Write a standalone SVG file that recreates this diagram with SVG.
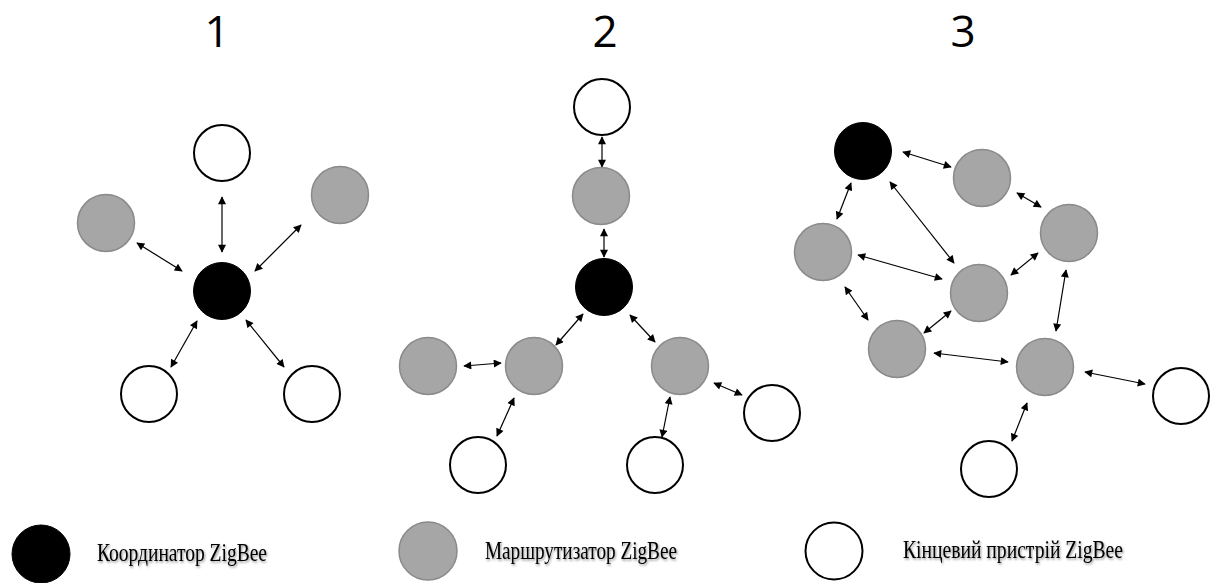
<svg xmlns="http://www.w3.org/2000/svg" width="1212" height="583" viewBox="0 0 1212 583">
<style>
.coord{fill:#000;stroke:#000;stroke-width:1}
.router{fill:#a6a6a6;stroke:#8a8a8a;stroke-width:1.5}
.end{fill:#fff;stroke:#000;stroke-width:2}
.link{stroke:#000;stroke-width:1.2;fill:none;marker-start:url(#ah);marker-end:url(#ah)}
.title{font-family:"Open Sans","Liberation Sans",sans-serif;font-size:44px;fill:#000;text-anchor:middle}
.leg{font-family:"Liberation Serif","Times New Roman",serif;font-size:25px;fill:#000;filter:url(#sh)}
</style>
<defs>
<marker id="ah" viewBox="0 0 10 10" refX="9" refY="5" markerWidth="9" markerHeight="8" markerUnits="userSpaceOnUse" orient="auto-start-reverse">
<path d="M0,0 L10,5 L0,10 z" fill="#000"/>
</marker>
<filter id="sh" x="-5%" y="-20%" width="110%" height="150%">
<feDropShadow dx="1" dy="1.5" stdDeviation="0.8" flood-color="#000" flood-opacity="0.45"/>
</filter>
</defs>

<g id="titles">
<text class="title" x="217" y="47">1</text>
<text class="title" x="605" y="47">2</text>
<text class="title" x="963" y="47">3</text>
</g>

<g id="connectors">
<!-- panel 1 -->
<line class="link" x1="222" y1="197" x2="222" y2="252"/>
<line class="link" x1="137" y1="243" x2="182" y2="271"/>
<line class="link" x1="301" y1="225" x2="255" y2="271"/>
<line class="link" x1="197" y1="321" x2="171" y2="367"/>
<line class="link" x1="246" y1="320" x2="284" y2="367"/>
<!-- panel 2 -->
<line class="link" x1="602" y1="137" x2="602" y2="167"/>
<line class="link" x1="604" y1="229" x2="604" y2="257"/>
<line class="link" x1="583" y1="314" x2="556" y2="345"/>
<line class="link" x1="630" y1="315" x2="655" y2="342"/>
<line class="link" x1="464" y1="366" x2="501" y2="363"/>
<line class="link" x1="514" y1="398" x2="497" y2="436"/>
<line class="link" x1="670" y1="397" x2="662" y2="437"/>
<line class="link" x1="714" y1="383" x2="742" y2="395"/>
<!-- panel 3 -->
<line class="link" x1="903" y1="152" x2="951" y2="167"/>
<line class="link" x1="851" y1="183" x2="837" y2="219"/>
<line class="link" x1="890" y1="182" x2="954" y2="263"/>
<line class="link" x1="1017" y1="193" x2="1041" y2="207"/>
<line class="link" x1="858" y1="255" x2="942" y2="279"/>
<line class="link" x1="1038" y1="253" x2="1011" y2="275"/>
<line class="link" x1="845" y1="287" x2="868" y2="320"/>
<line class="link" x1="951" y1="311" x2="924" y2="333"/>
<line class="link" x1="1066" y1="270" x2="1056" y2="331"/>
<line class="link" x1="934" y1="353" x2="1008" y2="362"/>
<line class="link" x1="1085" y1="372" x2="1145" y2="384"/>
<line class="link" x1="1027" y1="403" x2="1012" y2="441"/>
</g>

<!-- panel 1 nodes -->
<g id="p1-coord"><circle class="coord" cx="222" cy="291" r="28.5"/></g>
<g id="p1-end-top"><circle class="end" cx="222" cy="153" r="28"/></g>
<g id="p1-router-left"><circle class="router" cx="106" cy="223" r="28.5"/></g>
<g id="p1-router-right"><circle class="router" cx="340" cy="195" r="28.5"/></g>
<g id="p1-end-bl"><circle class="end" cx="149" cy="394" r="28"/></g>
<g id="p1-end-br"><circle class="end" cx="312" cy="394" r="28"/></g>

<!-- panel 2 nodes -->
<g id="p2-end-top"><circle class="end" cx="602" cy="107" r="28"/></g>
<g id="p2-router-top"><circle class="router" cx="601" cy="196" r="28.5"/></g>
<g id="p2-coord"><circle class="coord" cx="604" cy="287" r="28.5"/></g>
<g id="p2-router-farleft"><circle class="router" cx="428" cy="366" r="28.5"/></g>
<g id="p2-router-left"><circle class="router" cx="534" cy="366" r="28.5"/></g>
<g id="p2-router-right"><circle class="router" cx="680" cy="366" r="28.5"/></g>
<g id="p2-end-right"><circle class="end" cx="772" cy="413" r="28"/></g>
<g id="p2-end-bl"><circle class="end" cx="478" cy="465" r="28"/></g>
<g id="p2-end-br"><circle class="end" cx="655" cy="465" r="28"/></g>

<!-- panel 3 nodes -->
<g id="p3-coord"><circle class="coord" cx="863" cy="151" r="28.5"/></g>
<g id="p3-router-a"><circle class="router" cx="982" cy="178" r="28.5"/></g>
<g id="p3-router-b"><circle class="router" cx="1069" cy="233" r="28.5"/></g>
<g id="p3-router-c"><circle class="router" cx="823" cy="252" r="28.5"/></g>
<g id="p3-router-d"><circle class="router" cx="979" cy="293" r="28.5"/></g>
<g id="p3-router-e"><circle class="router" cx="897" cy="349" r="28.5"/></g>
<g id="p3-router-f"><circle class="router" cx="1045" cy="367" r="28.5"/></g>
<g id="p3-end-right"><circle class="end" cx="1181" cy="396" r="28"/></g>
<g id="p3-end-bottom"><circle class="end" cx="989" cy="469" r="28"/></g>

<!-- legend -->
<g id="legend-coord">
<circle class="coord" cx="41" cy="554" r="29"/>
<text class="leg" x="97" y="561" textLength="170" lengthAdjust="spacingAndGlyphs">Координатор ZigBee</text>
</g>
<g id="legend-router">
<circle class="router" cx="428" cy="551" r="29"/>
<text class="leg" x="485" y="559" textLength="192" lengthAdjust="spacingAndGlyphs">Маршрутизатор ZigBee</text>
</g>
<g id="legend-end">
<circle class="end" cx="834" cy="551" r="28.5"/>
<text class="leg" x="903" y="558" textLength="220" lengthAdjust="spacingAndGlyphs">Кінцевий пристрій ZigBee</text>
</g>
</svg>
